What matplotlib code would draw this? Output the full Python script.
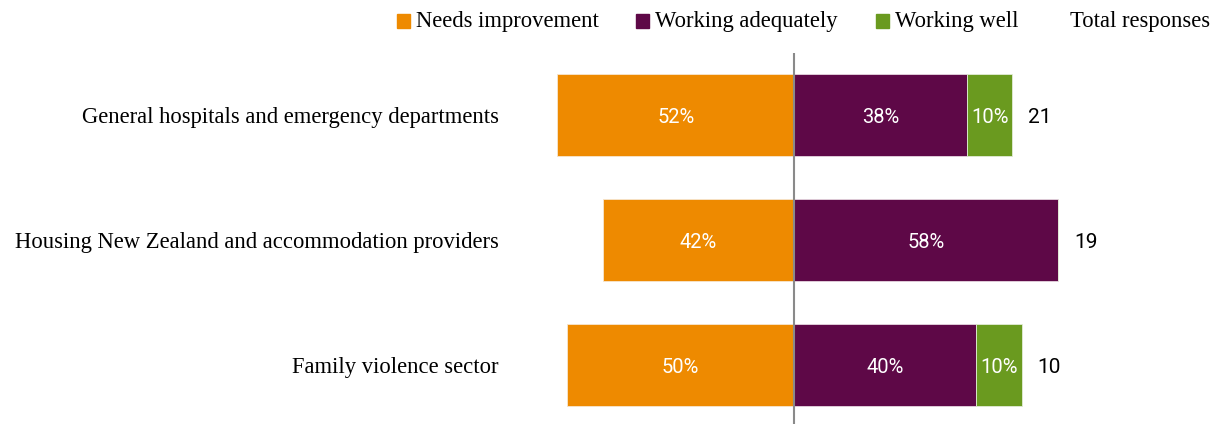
import matplotlib
matplotlib.use("Agg")
import matplotlib.pyplot as plt
from matplotlib.patches import Rectangle

categories = [
    "General hospitals and emergency departments",
    "Housing New Zealand and accommodation providers",
    "Family violence sector",
]
needs_improvement = [52, 42, 50]
working_adequately = [38, 58, 40]
working_well = [10, 0, 10]
total_responses = [21, 19, 10]

series_names = ["Needs improvement", "Working adequately", "Working well"]
colors = ["#EE8A00", "#5E0847", "#6A9A1F"]

serif = "Liberation Serif"
sans = "Roboto"

W, H = 1222, 424
fig = plt.figure(figsize=(W / 100, H / 100), dpi=100)

# axes placement in pixels
left_px, right_px = 521, 1112.5
top_px, bottom_px = 53, 424
ax = fig.add_axes([left_px / W, 1 - bottom_px / H,
                   (right_px - left_px) / W, (bottom_px - top_px) / H])

y = list(range(len(categories)))
bar_h = 0.66

neg = [-v for v in needs_improvement]
ax.barh(y, neg, height=bar_h, color=colors[0], edgecolor="#f6e6d0", linewidth=0.6)
ax.barh(y, working_adequately, height=bar_h, color=colors[1], edgecolor="#e6d6e0", linewidth=0.6)
ax.barh(y, working_well, left=working_adequately, height=bar_h, color=colors[2],
        edgecolor="#e2ecd6", linewidth=0.6)

label_kw = dict(ha="center", va="center", color="white", fontsize=14.5, family=sans)
for i in y:
    ax.text(-needs_improvement[i] / 2, i + 0.02, f"{needs_improvement[i]}%", **label_kw)
    ax.text(working_adequately[i] / 2, i + 0.02, f"{working_adequately[i]}%", **label_kw)
    if working_well[i] > 0:
        ax.text(working_adequately[i] + working_well[i] / 2, i + 0.02,
                f"{working_well[i]}%", **label_kw)
    end = working_adequately[i] + working_well[i]
    ax.annotate(str(total_responses[i]), xy=(end, i + 0.02), xytext=(11.5, 0),
                textcoords="offset points", ha="left", va="center",
                fontsize=15, family=sans, color="black")

ax.axvline(0, color="#8a8a8a", linewidth=1.5, zorder=3)

ax.set_xlim(-60, 70)
ax.set_ylim(2.472, -0.496)
ax.set_xticks([])
ax.set_yticks(y)
ax.set_yticklabels(categories, fontsize=16.3, family=serif)
ax.tick_params(axis="y", length=0, pad=16)
for s in ax.spines.values():
    s.set_visible(False)

# legend row across the top
leg_y = 1 - 21 / H
sq = 13
for name, col, x0 in zip(series_names, colors, [397, 636, 876]):
    fig.patches.append(Rectangle((x0 / W, leg_y - (sq / 2) / H), sq / W, sq / H,
                                 transform=fig.transFigure, color=col))
    fig.text((x0 + sq + 6) / W, leg_y, name, ha="left", va="center",
             fontsize=16.3, family=serif)
fig.text(1070 / W, leg_y, "Total responses", ha="left", va="center",
         fontsize=16.3, family=serif)

fig.savefig("out.png", dpi=100)
